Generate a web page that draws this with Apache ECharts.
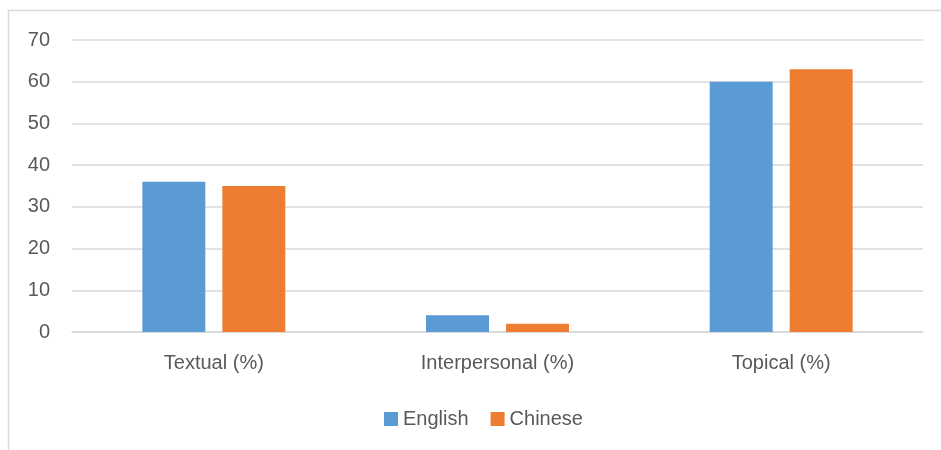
<!DOCTYPE html>
<html>
<head>
<meta charset="utf-8">
<script src="https://cdn.jsdelivr.net/npm/echarts@6/dist/echarts.min.js"></script>
<style>html,body{margin:0;padding:0;background:#fff}#c{width:941px;height:450px}</style>
</head>
<body>
<div id="c"></div>
<script>
var categories = ['Textual (%)', 'Interpersonal (%)', 'Topical (%)'];
var englishValues = [36, 4, 60];
var chineseValues = [35, 2, 63];
var yTicks = { min: 0, max: 70, interval: 10 };

var chart = echarts.init(document.getElementById('c'));
var font = 'Liberation Sans, Arial, sans-serif';
chart.setOption({
  animation: false,
  textStyle: { fontFamily: font },
  graphic: [{
    type: 'rect', silent: true,
    shape: { x: 8.5, y: 10.5, width: 1000, height: 1000 },
    style: { fill: 'none', stroke: '#d9d9d9', lineWidth: 1.5 }
  }],
  legend: {
    data: ['English', 'Chinese'],
    bottom: 21,
    left: 384,
    padding: 0,
    itemWidth: 14, itemHeight: 14, itemGap: 22,
    icon: 'rect',
    textStyle: { color: '#595959', fontSize: 20, fontFamily: font, padding: [0, 0, 0, 0] }
  },
  grid: { left: 72, right: 18, top: 40, bottom: 118, containLabel: false },
  xAxis: {
    type: 'category',
    data: categories,
    axisLine: { lineStyle: { color: '#d9d9d9', width: 1.5 } },
    axisTick: { show: false },
    axisLabel: { color: '#595959', fontSize: 20, margin: 21, fontFamily: font }
  },
  yAxis: {
    type: 'value',
    min: yTicks.min, max: yTicks.max, interval: yTicks.interval,
    axisLine: { show: false },
    axisTick: { show: false },
    splitLine: { lineStyle: { color: '#d9d9d9', width: 1.5 } },
    axisLabel: { color: '#595959', fontSize: 20, margin: 22, fontFamily: font }
  },
  series: [
    { name: 'English', type: 'bar', data: englishValues, barWidth: '22.2%', barGap: '27%',
      itemStyle: { color: '#5b9bd5' } },
    { name: 'Chinese', type: 'bar', data: chineseValues, barWidth: '22.2%', barGap: '27%',
      itemStyle: { color: '#ed7d31' } }
  ]
});
</script>
</body>
</html>
